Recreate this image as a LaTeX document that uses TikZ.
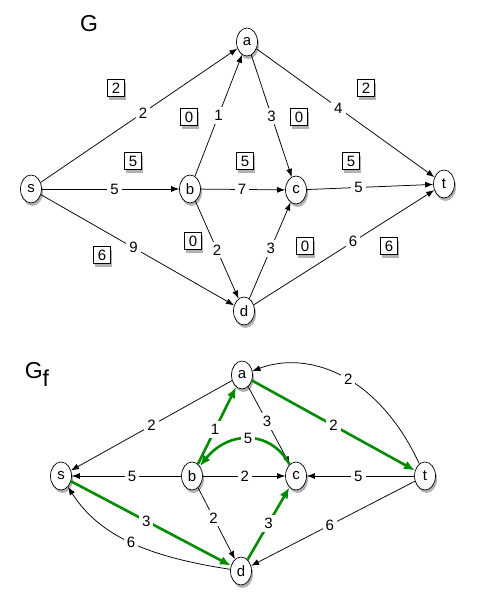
\documentclass[tikz,border=0pt]{standalone}
\usepackage{fontspec}
\setmainfont{Liberation Sans}
\usetikzlibrary{shapes.geometric,arrows.meta,shadows}
\definecolor{gcol}{RGB}{0,140,0}
\tikzset{
  vtx/.style={ellipse, draw, line width=0.7pt, fill=white, minimum width=21pt, minimum height=28pt, inner sep=0pt,
    font=\fontsize{15}{17}\selectfont,
    drop shadow={shadow xshift=1.5pt, shadow yshift=-3pt, fill=black, opacity=0.3}},
  flowbox/.style={draw, fill=white, line width=0.9pt, minimum size=16.5pt, inner sep=0pt,
    font=\fontsize{15}{17}\selectfont,
    drop shadow={shadow xshift=1.5pt, shadow yshift=-3.5pt, fill=black, opacity=0.3}},
  blk/.style={line width=0.75pt, -{Latex[length=8pt,width=6pt]}},
  grn/.style={line width=2.6pt, draw=gcol, -{Latex[length=11pt,width=9pt]}},
  lbl/.style={fill=white, inner sep=3pt, font=\fontsize{15}{17}\selectfont},
  ttl/.style={inner sep=0pt, font=\fontsize{23}{26}\selectfont},
}
\begin{document}
\begin{tikzpicture}[x=1pt,y=1pt]
\useasboundingbox (0,0) rectangle (476,607);
% ---------- G ----------
\node[ttl] (G) at (89,583) {G};
\node[vtx] (a) at (247,565) {a};
\node[vtx] (s) at (31,418) {s};
\node[vtx] (b) at (190,418) {b};
\node[vtx] (c) at (296,417) {c};
\node[vtx] (t) at (444,423) {t};
\node[vtx] (d) at (244,296) {d};

\draw[blk] (s) -- node[lbl,pos=0.52] {2} (a);
\draw[blk] (b) -- node[lbl,pos=0.5] {1} (a);
\draw[blk] (a) -- node[lbl,pos=0.5] {3} (c);
\draw[blk] (a) -- node[lbl,pos=0.46] {4} (t);
\draw[blk] (s) -- node[lbl,pos=0.53] {5} (b);
\draw[blk] (b) -- node[lbl,pos=0.49] {7} (c);
\draw[blk] (c) -- node[lbl,pos=0.41] {5} (t);
\draw[blk] (s) -- node[lbl,pos=0.48] {9} (d);
\draw[blk] (b) -- node[lbl,pos=0.5] {2} (d);
\draw[blk] (d) -- node[lbl,pos=0.52] {3} (c);
\draw[blk] (d) -- node[lbl,pos=0.55] {6} (t);

\node[flowbox] (f1) at (116,519) {2};
\node[flowbox] (f2) at (189,490) {0};
\node[flowbox] (f3) at (299,490) {0};
\node[flowbox] (f4) at (366,519) {2};
\node[flowbox] (f5) at (133,446) {5};
\node[flowbox] (f6) at (245,446) {5};
\node[flowbox] (f7) at (351,446) {5};
\node[flowbox] (f8) at (193,366) {0};
\node[flowbox] (f9) at (305,361) {0};
\node[flowbox] (f10) at (102,352) {6};
\node[flowbox] (f11) at (389,361) {6};

% ---------- G_f ----------
\node[ttl] (Gf) at (37,233) {G\raisebox{-8pt}{f}};
\node[vtx] (a2) at (242,232) {a};
\node[vtx] (s2) at (61,131) {s};
\node[vtx] (b2) at (192,131) {b};
\node[vtx] (c2) at (296,131) {c};
\node[vtx] (t2) at (425,131) {t};
\node[vtx] (d2) at (241,36) {d};

\draw[blk] (a2) -- node[lbl,pos=0.5] {2} (s2);
\draw[grn] (b2) -- node[lbl,pos=0.45] {1} (a2);
\draw[blk] (a2) -- node[lbl,pos=0.45] {3} (c2);
\draw[grn] (a2) -- node[lbl,pos=0.5] {2} (t2);
\draw[blk] (t2) .. controls (376,236) and (305,256) .. node[lbl,pos=0.45] {2} (a2);
\draw[grn] (c2) .. controls (270,178) and (228,176) .. node[lbl,pos=0.5] {5} (b2);
\draw[blk] (b2) -- node[lbl,pos=0.45] {5} (s2);
\draw[blk] (b2) -- node[lbl,pos=0.51] {2} (c2);
\draw[blk] (t2) -- node[lbl,pos=0.52] {5} (c2);
\draw[grn] (s2) -- node[lbl,pos=0.47] {3} (d2);
\draw[blk] (b2) -- node[lbl,pos=0.42] {2} (d2);
\draw[grn] (d2) -- node[lbl,pos=0.5] {3} (c2);
\draw[blk] (t2) -- node[lbl,pos=0.52] {6} (d2);
\draw[blk] (d2) .. controls (150,50) and (100,70) .. node[lbl,pos=0.5] {6} (s2);
\end{tikzpicture}
\end{document}
